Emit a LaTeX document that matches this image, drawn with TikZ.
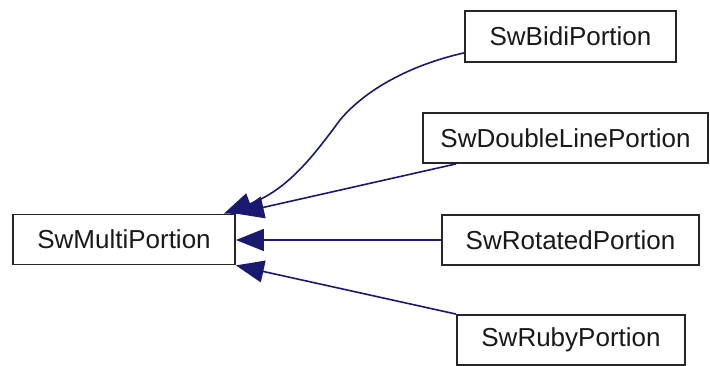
\documentclass[tikz,border=0pt]{standalone}
\usepackage{fontspec}
\setmainfont{Liberation Sans}
\usetikzlibrary{arrows.meta,calc}
\definecolor{edgeblue}{HTML}{191970}
\tikzset{
  cls/.style={draw=black!85, line width=1.8pt, fill=white, inner sep=0pt,
    minimum height=50pt, font=\fontsize{26}{30}\selectfont, text=black!90},
  edge/.style={draw=edgeblue, line width=1.6pt,
    -{Triangle[length=28pt,width=22pt]}, fill=none},
}
\begin{document}
\begin{tikzpicture}[x=1pt,y=-1pt]
\useasboundingbox (0,0) rectangle (710,366);
\node[cls, minimum width=222pt] (multi) at (124,239.5) {SwMultiPortion};
\node[cls, minimum width=211pt, minimum height=51pt] (bidi) at (570.5,36.5) {SwBidiPortion};
\node[cls, minimum width=285pt] (dbl) at (565.5,138) {SwDoubleLinePortion};
\node[cls, minimum width=257pt] (rot) at (570.5,240) {SwRotatedPortion};
\node[cls, minimum width=228pt] (ruby) at (571,340) {SwRubyPortion};
\draw[edge] ($(bidi.south west)+(0,-10)$) .. controls (410,65) and (365,90) .. (340,120)
  .. controls (312,158) and (287,190) .. ($(multi.north east)+(-12,0)$);
\draw[edge] ($(dbl.south west)+(34,0)$) -- (multi.north east);
\draw[edge] (rot.west) -- (multi.east |- rot.west);
\draw[edge] (ruby.north west) -- (multi.south east);
\end{tikzpicture}
\end{document}
